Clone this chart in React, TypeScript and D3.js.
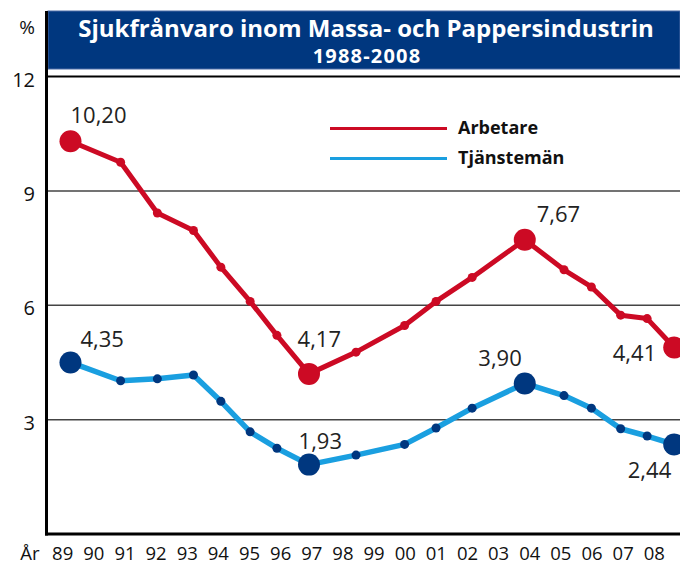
import React, { useRef, useEffect } from "react";
import * as d3 from "d3";

// x positions of the points (decimal years)
const pointYears = [1989.25, 1990.86, 1992.04, 1993.2, 1994.08, 1995.02, 1995.88, 1996.91, 1998.42, 1999.98, 2000.99, 2002.15, 2003.84, 2005.1, 2005.98, 2006.92, 2007.77, 2008.64];
const arbetare = [10.3, 9.75, 8.42, 7.96, 7.0, 6.1, 5.21, 4.2, 4.77, 5.47, 6.1, 6.73, 7.72, 6.93, 6.48, 5.74, 5.65, 4.89];
const tjansteman = [4.5, 4.02, 4.07, 4.17, 3.48, 2.68, 2.25, 1.82, 2.07, 2.35, 2.78, 3.3, 3.95, 3.63, 3.3, 2.76, 2.57, 2.35];
const bigPoints = [0, 7, 12, 17];
const arbetareLabels = ["10,20", "4,17", "7,67", "4,41"];
const tjanstemanLabels = ["4,35", "1,93", "3,90", "2,44"];
const yearTicks = ["89", "90", "91", "92", "93", "94", "95", "96", "97", "98", "99", "00", "01", "02", "03", "04", "05", "06", "07", "08"];
const yTicks = [3, 6, 9, 12];

const RED = "#cc0a24";
const BLUE = "#1a9fe0";
const NAVY = "#00377f";

export default function App() {
    const svgRef = useRef<SVGSVGElement>(null);

    useEffect(() => {
        const width = 680;
        const left = 47;
        const svg = d3.select(svgRef.current);
        svg.selectAll("*").remove();

        const x = d3.scaleLinear().domain([1989, 2008]).range([62.7, 654.3]);
        const y = d3.scaleLinear().domain([0, 12]).range([534, 76.5]);
        const font = "'Open Sans', 'Noto Sans', sans-serif";

        // title banner
        svg.append("rect")
            .attr("x", left + 1).attr("y", 11)
            .attr("width", width - left - 1).attr("height", 58)
            .attr("fill", NAVY)
            .attr("stroke", "#4a6aa6").attr("stroke-width", 1);
        svg.append("text")
            .attr("x", 366).attr("y", 37)
            .attr("text-anchor", "middle")
            .attr("font-family", font).attr("font-weight", "bold").attr("font-size", 24)
            .attr("fill", "white")
            .text("Sjukfrånvaro inom Massa- och Pappersindustrin");
        svg.append("text")
            .attr("x", 367).attr("y", 63)
            .attr("text-anchor", "middle")
            .attr("font-family", font).attr("font-weight", "bold").attr("font-size", 20)
            .attr("letter-spacing", 1.2)
            .attr("fill", "white")
            .text("1988-2008");

        // gridlines
        svg.selectAll("line.grid")
            .data(yTicks)
            .enter()
            .append("line")
            .attr("class", "grid")
            .attr("x1", left).attr("x2", width)
            .attr("y1", d => y(d)).attr("y2", d => y(d))
            .attr("stroke", d => d === 12 ? "#000" : "#444")
            .attr("stroke-width", d => d === 12 ? 2 : 1.5);

        svg.selectAll("text.ytick")
            .data(yTicks)
            .enter()
            .append("text")
            .attr("class", "ytick")
            .attr("x", 35).attr("y", d => y(d) + 10)
            .attr("text-anchor", "end")
            .attr("font-family", font).attr("font-size", 20)
            .attr("fill", "#111")
            .text(d => d);
        svg.append("text")
            .attr("x", 35).attr("y", 34)
            .attr("text-anchor", "end")
            .attr("font-family", font).attr("font-size", 19)
            .attr("fill", "#111")
            .text("%");

        // axes
        svg.append("line")
            .attr("x1", left - 0.5).attr("x2", left - 0.5)
            .attr("y1", 11).attr("y2", 535.5)
            .attr("stroke", "#000").attr("stroke-width", 3);
        svg.append("line")
            .attr("x1", left - 2).attr("x2", width)
            .attr("y1", 534).attr("y2", 534)
            .attr("stroke", "#000").attr("stroke-width", 3);

        svg.append("text")
            .attr("x", 30).attr("y", 560)
            .attr("text-anchor", "middle")
            .attr("font-family", font).attr("font-size", 18.5)
            .attr("fill", "#111")
            .text("År");
        svg.selectAll("text.xtick")
            .data(yearTicks)
            .enter()
            .append("text")
            .attr("class", "xtick")
            .attr("x", (d, i) => x(1989 + i))
            .attr("y", 560)
            .attr("text-anchor", "middle")
            .attr("font-family", font).attr("font-size", 18.5)
            .attr("fill", "#111")
            .text(d => d);

        const line = d3.line<number>()
            .x((d, i) => x(pointYears[i]))
            .y(d => y(d));

        const series = [
            { values: tjansteman, line: BLUE, dot: NAVY, labels: tjanstemanLabels, width: 5.5 },
            { values: arbetare, line: RED, dot: RED, labels: arbetareLabels, width: 5 },
        ];

        // label offsets relative to the big points [dx, dy, anchor]
        const labelPlace: { [k: string]: [number, number, string] } = {
            "10,20": [0, -18, "start"],
            "4,17": [32, -27, "end"],
            "7,67": [12, -18, "start"],
            "4,41": [-18, 13, "end"],
            "4,35": [10, -15, "start"],
            "1,93": [33, -16, "end"],
            "3,90": [-3, -17, "end"],
            "2,44": [-3, 34, "end"],
        };

        series.forEach(s => {
            const g = svg.append("g");
            g.append("path")
                .datum(s.values)
                .attr("d", line)
                .attr("fill", "none")
                .attr("stroke", s.line)
                .attr("stroke-width", s.width)
                .attr("stroke-linejoin", "round");
            g.selectAll("circle")
                .data(s.values)
                .enter()
                .append("circle")
                .attr("cx", (d, i) => x(pointYears[i]))
                .attr("cy", d => y(d))
                .attr("r", (d, i) => bigPoints.includes(i) ? 11 : 4.5)
                .attr("fill", s.dot);
            g.selectAll("text")
                .data(bigPoints)
                .enter()
                .append("text")
                .attr("x", (d, i) => x(pointYears[d]) + labelPlace[s.labels[i]][0])
                .attr("y", (d) => y(s.values[d]))
                .attr("dy", (d, i) => labelPlace[s.labels[i]][1])
                .attr("text-anchor", (d, i) => labelPlace[s.labels[i]][2])
                .attr("font-family", font).attr("font-size", 22)
                .attr("fill", "#222")
                .text((d, i) => s.labels[i]);
        });

        // legend
        const legend = svg.append("g");
        [{ name: "Arbetare", color: RED }, { name: "Tjänstemän", color: BLUE }].forEach((d, i) => {
            legend.append("line")
                .attr("x1", 330).attr("x2", 447)
                .attr("y1", 128.5 + i * 30).attr("y2", 128.5 + i * 30)
                .attr("stroke", d.color).attr("stroke-width", 3);
            legend.append("text")
                .attr("x", 458).attr("y", 134 + i * 30)
                .attr("font-family", font).attr("font-weight", "bold").attr("font-size", 18)
                .attr("fill", "#111")
                .text(d.name);
        });
    }, []);

    return (
        <svg ref={svgRef} width={680} height={565}
            style={{ position: "absolute", left: 0, top: 0, background: "white" }} />
    );
}
